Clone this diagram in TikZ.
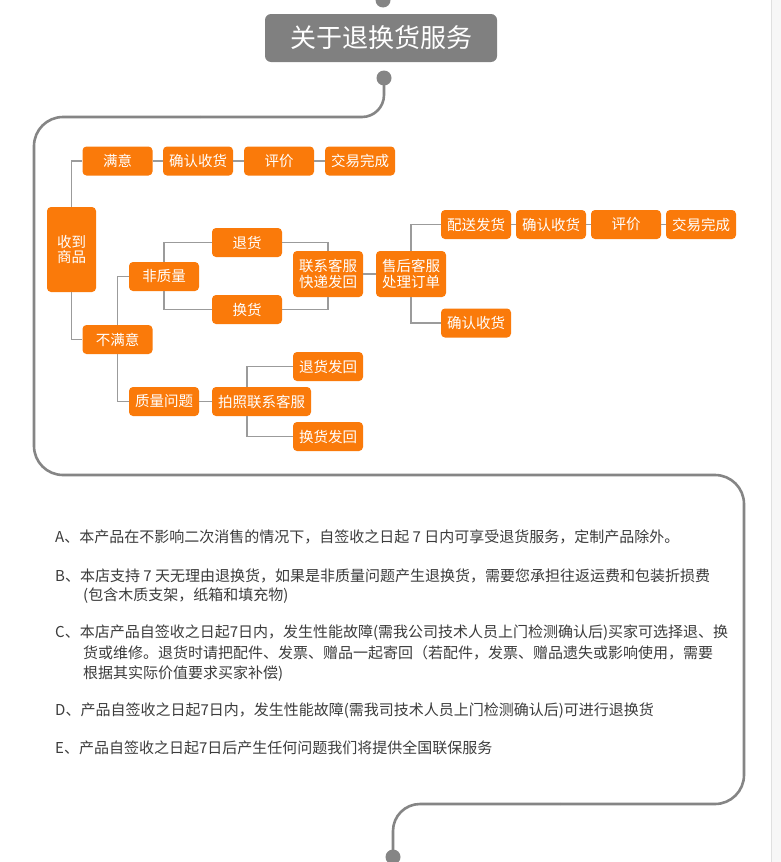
\documentclass[tikz,border=0pt]{standalone}
\usepackage{fontspec}
\setmainfont{Noto Sans CJK SC}
\newfontfamily\cjk{Noto Sans CJK SC}
\definecolor{obox}{RGB}{250,122,10}
\definecolor{framegray}{RGB}{133,133,133}
\definecolor{linegray}{RGB}{155,155,155}
\definecolor{titlegray}{RGB}{128,128,128}
\definecolor{txtgray}{RGB}{60,60,60}
\tikzset{
  ob/.style={fill=obox, rounded corners=4pt, text=white, font=\cjk\fontsize{14.5}{15.5}\selectfont,
    minimum height=29pt, minimum width=70pt, inner sep=0pt, align=center},
  conn/.style={draw=linegray, line width=1.5pt},
  frameline/.style={draw=framegray, line width=2.6pt},
  txt/.style={anchor=west, inner sep=0pt, text=txtgray, font=\cjk\fontsize{15}{18}\selectfont}
}
\begin{document}
\begin{tikzpicture}[x=1pt,y=-1pt]
\useasboundingbox (0,0) rectangle (781,862);
\fill[white] (0,0) rectangle (781,862);
% right strip
\fill[black!3] (771,0) rectangle (781,862);
\draw[black!12, line width=0.8pt] (771,0) -- (771,862);

% title
\node[fill=titlegray, rounded corners=6pt, text=white, minimum width=232pt, minimum height=48pt,
  inner sep=0pt, font=\cjk\fontsize{26}{28}\selectfont] (title) at (381,38) {关于退换货服务};
\fill[framegray] (383,0) circle[radius=7.5pt];
\fill[framegray] (384,78) circle[radius=7.5pt];
\fill[framegray] (393,857) circle[radius=7.5pt];

% frame
\draw[frameline, rounded corners=22pt] (384,78) -- (384,117) -- (200,117);
\draw[frameline, rounded corners=29pt] (200,117) -- (34,117) -- (34,475) -- (744,475) -- (744,804) -- (560,804);
\draw[frameline, rounded corners=27pt] (560,804) -- (393,804) -- (393,857);

% nodes
\node[ob, minimum width=49pt, minimum height=85pt] (sd) at (71.5,249.5) {收到\\商品};
\node[ob] (my) at (117.5,161) {满意};
\node[ob] (qr1) at (198,161) {确认收货};
\node[ob] (pj1) at (279,161) {评价};
\node[ob] (jy1) at (360,161) {交易完成};
\node[ob] (bmy) at (117.5,339.5) {不满意};
\node[ob] (fzl) at (164,276.5) {非质量};
\node[ob] (th) at (247,242.5) {退货};
\node[ob] (hh) at (247,309.5) {换货};
\node[ob, minimum height=46pt] (lx) at (328,274) {联系客服\\快递发回};
\node[ob, minimum height=46pt] (sh) at (411,274) {售后客服\\处理订单};
\node[ob] (ps) at (476,224.5) {配送发货};
\node[ob] (qr2) at (551,224.5) {确认收货};
\node[ob] (pj2) at (626,224.5) {评价};
\node[ob] (jy2) at (701,224.5) {交易完成};
\node[ob] (qr3) at (476,323) {确认收货};
\node[ob] (zl) at (164,401.5) {质量问题};
\node[ob, minimum width=99pt] (pz) at (261.5,401.5) {拍照联系客服};
\node[ob] (thf) at (328,366.5) {退货发回};
\node[ob] (hhf) at (328,436.5) {换货发回};

% connectors
\draw[conn] (sd.north) |- (my.west);
\draw[conn] (sd.south) |- (bmy.west);
\draw[conn] (my) -- (qr1);
\draw[conn] (qr1) -- (pj1);
\draw[conn] (pj1) -- (jy1);
\draw[conn] (bmy.north) |- (fzl.west);
\draw[conn] (fzl.north) |- (th.west);
\draw[conn] (fzl.south) |- (hh.west);
\draw[conn] (th.east) -| (lx.north);
\draw[conn] (hh.east) -| (lx.south);
\draw[conn] (lx) -- (sh);
\draw[conn] (sh.north) |- (ps.west);
\draw[conn] (sh.south) |- (qr3.west);
\draw[conn] (ps) -- (qr2);
\draw[conn] (qr2) -- (pj2);
\draw[conn] (pj2) -- (jy2);
\draw[conn] (bmy.south) |- (zl.west);
\draw[conn] (zl) -- (pz);
\draw[conn] ([xshift=-14.5pt]pz.north) |- (thf.west);
\draw[conn] ([xshift=-14.5pt]pz.south) |- (hhf.west);

% text
\node[txt] (ta) at (55,537) {A、本产品在不影响二次消售的情况下，自签收之日起 7 日内可享受退货服务，定制产品除外。};
\node[txt] (tb1) at (55,576) {B、本店支持 7 天无理由退换货，如果是非质量问题产生退换货，需要您承担往返运费和包装折损费};
\node[txt] (tb2) at (83,596) {(包含木质支架，纸箱和填充物)};
\node[txt] (tc1) at (55,633) {C、本店产品自签收之日起7日内，发生性能故障(需我公司技术人员上门检测确认后)买家可选择退、换};
\node[txt] (tc2) at (83,653) {货或维修。退货时请把配件、发票、赠品一起寄回（若配件，发票、赠品遗失或影响使用，需要};
\node[txt] (tc3) at (83,674) {根据其实际价值要求买家补偿)};
\node[txt] (td) at (55,711) {D、产品自签收之日起7日内，发生性能故障(需我司技术人员上门检测确认后)可进行退换货};
\node[txt] (te) at (55,748) {E、产品自签收之日起7日后产生任何问题我们将提供全国联保服务};
\end{tikzpicture}
\end{document}
